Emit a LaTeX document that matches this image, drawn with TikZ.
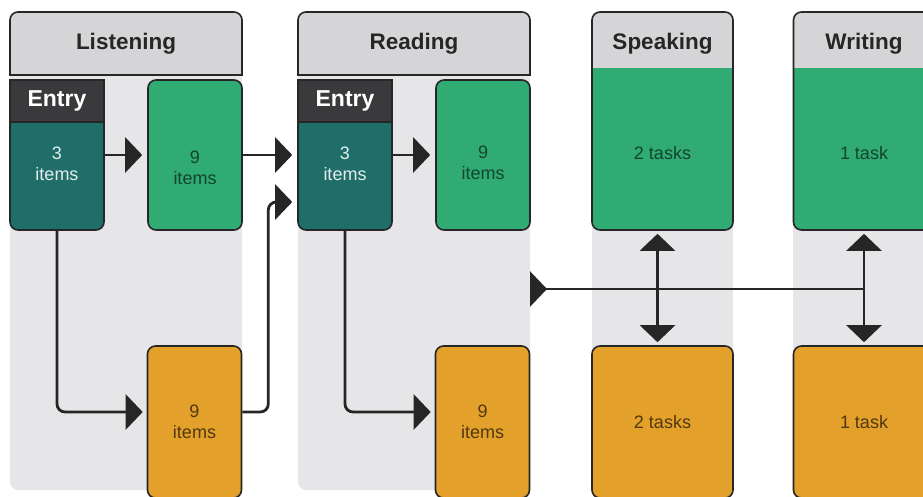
\documentclass[tikz,border=0pt]{standalone}
\usepackage{fontspec}
\setmainfont{Liberation Sans}
\usetikzlibrary{arrows.meta}

\definecolor{hdrgray}{HTML}{D5D5D7}
\definecolor{colgray}{HTML}{E6E6E8}
\definecolor{entrydark}{HTML}{3A3A3C}
\definecolor{tealbox}{HTML}{1F6E69}
\definecolor{greenbox}{HTML}{2FAB73}
\definecolor{orangebox}{HTML}{E3A02A}
\definecolor{edge}{HTML}{262626}

\begin{document}
\begin{tikzpicture}
[x=1pt,y=-1pt,
 every node/.style={inner sep=0pt,align=center,font=\fontsize{18}{21}\selectfont},
 box/.style={draw=edge,line width=1.6pt,rounded corners=8pt,minimum width=94pt,minimum height=150pt},
 wide/.style={box,minimum width=141pt},
 entrytop/.style={draw=edge,line width=1.6pt,fill=entrydark,minimum width=94pt,minimum height=42pt,text=white,font=\fontsize{23}{27}\selectfont\bfseries},
 head/.style={text=edge,font=\fontsize{22.5}{27}\selectfont\bfseries},
 onteal/.style={text=tealbox!12},
 ongreen/.style={text=greenbox!40!black},
 onorange/.style={text=orangebox!35!black},
 conn/.style={draw=edge,line width=2.8pt,rounded corners=8pt,-{Triangle[length=17pt,width=35pt]}},
 both/.style={conn,{Triangle[length=17pt,width=35pt]}-{Triangle[length=17pt,width=35pt]}},
 topgray/.style={path picture={\fill[hdrgray,sharp corners] (path picture bounding box.north west) rectangle ([yshift=-#1]path picture bounding box.north east);}}]

\clip (0,0) rectangle (923,496);

% the two sections with an entry block
\foreach \x/\name/\id in {10/Listening/l,298/Reading/r}{
  \fill[colgray,rounded corners=8pt] (\x,70) rectangle +(232,420);
  \begin{scope}
    \clip (\x-2,0) rectangle +(236,75);
    \filldraw[fill=hdrgray,draw=edge,line width=1.6pt,rounded corners=8pt] (\x,12) rectangle +(232,90);
  \end{scope}
  \draw[edge,line width=1.6pt] (\x,75) -- +(232,0);
  \node[head] (\id-head) at (\x+116,44) {\name};
}
\fill[colgray] (592,200) rectangle (733,380);
\fill[colgray] (793,200) rectangle (935,380);

% Listening
\node[box,fill=tealbox] (le) at (57,155) {};
\node[entrytop] (le-top) at (57,101) {Entry};
\node[onteal] (le-txt) at (57,164) {3\\items};
\node[box,fill=greenbox] (lg) at (195,155) {};
\node[ongreen] (lg-txt) at (195,168) {9\\items};
\node[box,fill=orangebox,onorange,minimum height=152pt] (lo) at (194.5,422) {9\\items};

% Reading
\node[box,fill=tealbox] (re) at (345,155) {};
\node[entrytop] (re-top) at (345,101) {Entry};
\node[onteal] (re-txt) at (345,164) {3\\items};
\node[box,fill=greenbox] (rg) at (483,155) {};
\node[ongreen] (rg-txt) at (483,163) {9\\items};
\node[box,fill=orangebox,onorange,minimum height=152pt] (ro) at (482.5,422) {9\\items};

% Speaking
\node[wide,fill=greenbox,topgray=56pt,minimum height=218pt] (sg) at (662.5,121) {};
\node[head] (s-head) at (662.5,44) {Speaking};
\node[ongreen] (sg-txt) at (662.5,153) {2 tasks};
\node[wide,fill=orangebox,onorange,minimum height=152pt] (so) at (662.5,422) {2 tasks};

% Writing
\node[wide,fill=greenbox,topgray=56pt,minimum height=218pt] (wg) at (864,121) {};
\node[head] (w-head) at (864,44) {Writing};
\node[ongreen] (wg-txt) at (864,153) {1 task};
\node[wide,fill=orangebox,onorange,minimum height=152pt] (wo) at (864,422) {1 task};

% arrows
\coordinate (r-edge) at (530,289);
\draw[conn,shorten >=5pt] (le) -- (lg);
\draw[conn,shorten >=5pt] (lg) -- (re);
\draw[conn,shorten >=4pt] (le.south) |- ([yshift=10pt]lo.west);
\draw[conn,shorten >=5pt] ([yshift=10pt]lo.east) -- ++(26,0) |- ([yshift=-47pt]re.west);
\draw[conn,shorten >=5pt] (re) -- (rg);
\draw[conn,shorten >=4pt] (re.south) |- ([yshift=10pt]ro.west);
\draw[conn,{Triangle[length=17pt,width=35pt,reversed]}-] (r-edge) -- (r-edge -| wg.south);
\draw[both,shorten <=3pt,shorten >=3pt] ([xshift=-5pt]sg.south) -- ([xshift=-5pt]so.north);
\draw[both,shorten <=3pt,shorten >=3pt] (wg.south) -- (wo.north);
\end{tikzpicture}
\end{document}
